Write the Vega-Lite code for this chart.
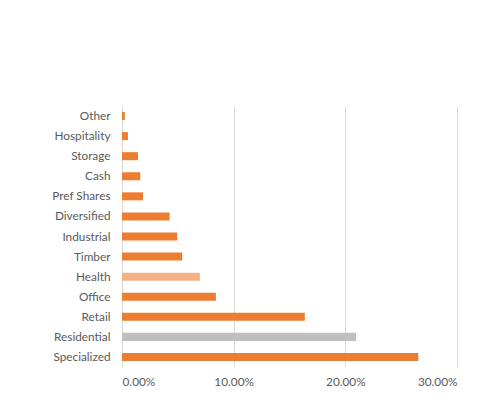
{
  "$schema": "https://vega.github.io/schema/vega-lite/v6.json",
  "autosize": {"type": "none"},
  "width": 335,
  "height": 261,
  "padding": {"left": 122, "top": 106, "right": 42, "bottom": 40},
  "background": "white",
  "config": {
    "view": {"stroke": null},
    "font": "Lato",
    "axis": {"labelFont": "Lato", "labelColor": "#595959", "labelFontSize": 11.8}
  },
  "data": {
    "values": [
      {"category": "Other", "share": 0.0025},
      {"category": "Hospitality", "share": 0.0053},
      {"category": "Storage", "share": 0.0143},
      {"category": "Cash", "share": 0.0164},
      {"category": "Pref Shares", "share": 0.0188},
      {"category": "Diversified", "share": 0.0426},
      {"category": "Industrial", "share": 0.0495},
      {"category": "Timber", "share": 0.0539},
      {"category": "Health", "share": 0.0697},
      {"category": "Office", "share": 0.0841},
      {"category": "Retail", "share": 0.1637},
      {"category": "Residential", "share": 0.2096},
      {"category": "Specialized", "share": 0.2653}
    ]
  },
  "mark": {"type": "bar"},
  "encoding": {
    "y": {
      "field": "category",
      "type": "nominal",
      "sort": null,
      "scale": {"paddingInner": 0.6, "paddingOuter": 0.3},
      "axis": {"title": null, "ticks": false, "domain": false, "labelPadding": 12, "grid": false}
    },
    "x": {
      "field": "share",
      "type": "quantitative",
      "scale": {"domain": [0, 0.3], "nice": false},
      "axis": {
        "title": null,
        "format": ".2%",
        "values": [0, 0.1, 0.2, 0.3],
        "grid": true,
        "gridColor": "#D9D9D9",
        "gridWidth": 1,
        "domain": false,
        "ticks": false,
        "labelPadding": 9
      }
    },
    "color": {
      "field": "category",
      "type": "nominal",
      "legend": null,
      "scale": {
        "domain": ["Other", "Hospitality", "Storage", "Cash", "Pref Shares", "Diversified", "Industrial", "Timber", "Health", "Office", "Retail", "Residential", "Specialized"],
        "range": ["#ED7D31", "#ED7D31", "#ED7D31", "#ED7D31", "#ED7D31", "#ED7D31", "#ED7D31", "#ED7D31", "#F4B183", "#ED7D31", "#ED7D31", "#BFBFBF", "#ED7D31"]
      }
    }
  }
}
